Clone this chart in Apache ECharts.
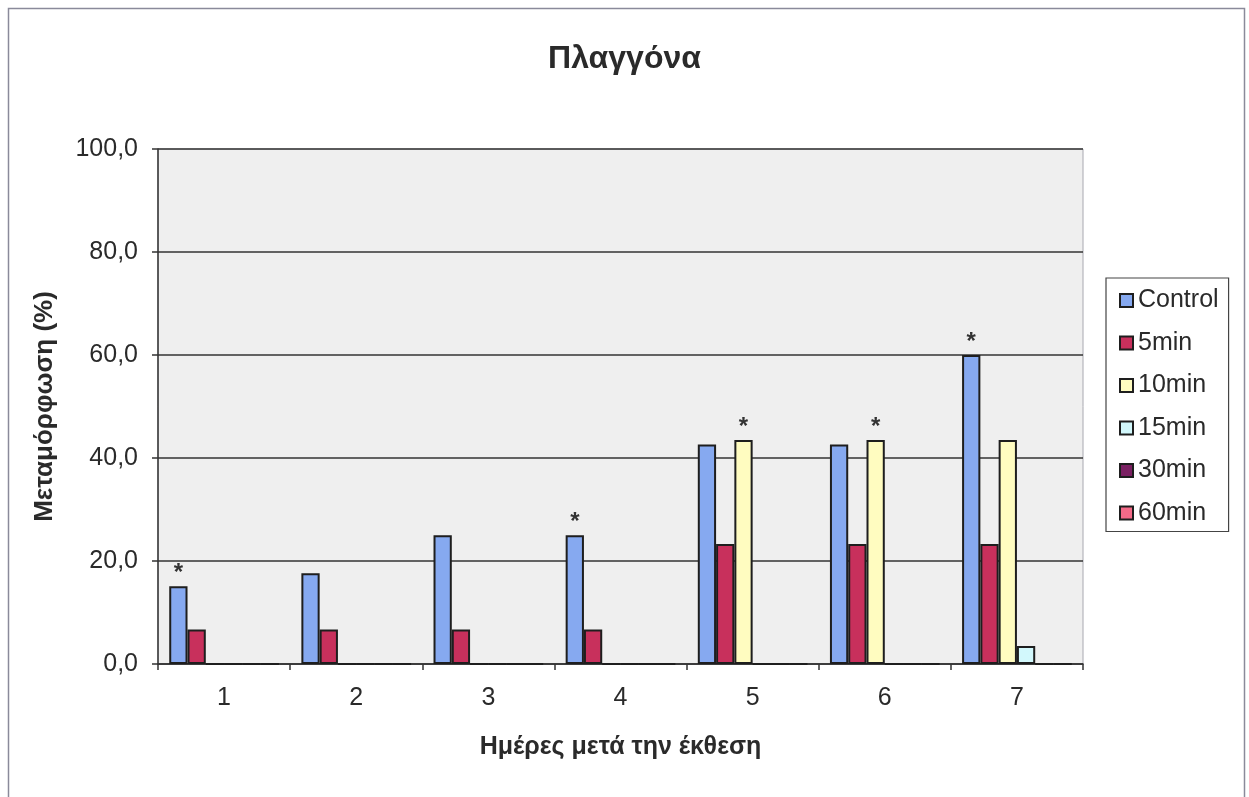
<!DOCTYPE html>
<html>
<head>
<meta charset="utf-8">
<title>Πλαγγόνα</title>
<script src="https://cdn.jsdelivr.net/npm/echarts@6/dist/echarts.min.js"></script>
<style>
  html, body { margin: 0; padding: 0; background: #ffffff; }
  #chart { width: 1249px; height: 797px; }
</style>
</head>
<body>
<div id="chart"></div>
<script>
// Days after exposure
const days = ['1', '2', '3', '4', '5', '6', '7'];

// Transformation (%) per exposure group
const control = [15.1, 17.6, 25.0, 25.0, 42.6, 42.6, 60.0];
const min5    = [6.7, 6.7, 6.7, 6.7, 23.3, 23.3, 23.3];
const min10   = [0, 0, 0, 0, 43.5, 43.5, 43.5];
const min15   = [0, 0, 0, 0, 0, 0, 3.5];
const min30   = [0, 0, 0, 0, 0, 0, 0];
const min60   = [0, 0, 0, 0, 0, 0, 0];

// Significance markers (*) shown above a bar
const controlStars = [true, false, false, true, false, false, true];
const min10Stars   = [false, false, false, false, true, true, false];
const noStars      = [false, false, false, false, false, false, false];

const yTicks = { min: 0, max: 100, interval: 20 };

const groups = [
  { name: 'Control', values: control, stars: controlStars, color: '#86a9f0' },
  { name: '5min',    values: min5,    stars: noStars,      color: '#c8305c' },
  { name: '10min',   values: min10,   stars: min10Stars,   color: '#fffcc0' },
  { name: '15min',   values: min15,   stars: noStars,      color: '#d2f8fc' },
  { name: '30min',   values: min30,   stars: noStars,      color: '#7a2062' },
  { name: '60min',   values: min60,   stars: noStars,      color: '#f46a88' }
];

const font = '"Liberation Sans", Arial, sans-serif';

const series = groups.map(g => ({
  name: g.name,
  type: 'bar',
  barGap: '0%',
  barCategoryGap: '17%',
  itemStyle: { color: g.color, borderColor: '#1e1e1e', borderWidth: 2 },
  label: {
    show: false,
    position: 'top',
    distance: 1,
    formatter: '*',
    fontSize: 24,
    fontWeight: 'bold',
    fontFamily: font,
    color: '#333333'
  },
  emphasis: { disabled: true },
  data: g.values.map((v, i) => ({ value: v, label: { show: g.stars[i] } }))
}));

const chart = echarts.init(document.getElementById('chart'), null, { renderer: 'canvas' });

chart.setOption({
  animation: false,
  backgroundColor: '#ffffff',
  textStyle: { fontFamily: font },
  graphic: [{
    type: 'rect',
    shape: { x: 8.5, y: 8.5, width: 1236, height: 800 },
    style: { fill: 'none', stroke: '#8a8a9a', lineWidth: 1.5 },
    silent: true,
    z: -1
  }],
  title: {
    text: 'Πλαγγόνα',
    left: 'center',
    top: 38,
    textStyle: { fontFamily: font, fontSize: 32, fontWeight: 'bold', color: '#2a2a2a' }
  },
  legend: {
    orient: 'vertical',
    left: 1106,
    top: 278,
    padding: [10, 10, 6, 13],
    itemGap: 17.5,
    itemWidth: 13,
    itemHeight: 13,
    borderColor: '#444444',
    borderWidth: 1.2,
    icon: 'rect',
    textStyle: { fontFamily: font, fontSize: 25, color: '#2a2a2a' },
    data: groups.map(g => g.name)
  },
  grid: {
    left: 158,
    right: 166,
    top: 149,
    bottom: 133,
    show: true,
    backgroundColor: '#efefef',
    borderColor: '#a8a8b0',
    borderWidth: 1
  },
  xAxis: {
    type: 'category',
    data: days,
    name: 'Ημέρες μετά την έκθεση',
    nameLocation: 'middle',
    nameGap: 71,
    nameTextStyle: { fontFamily: font, fontSize: 25, fontWeight: 'bold', color: '#2a2a2a' },
    axisLine: { lineStyle: { color: '#333333', width: 1.5 } },
    axisTick: { show: true, length: 6, lineStyle: { color: '#333333', width: 1.5 } },
    axisLabel: { fontFamily: font, fontSize: 25, color: '#2a2a2a', margin: 22 }
  },
  yAxis: {
    type: 'value',
    min: yTicks.min,
    max: yTicks.max,
    interval: yTicks.interval,
    name: 'Μεταμόρφωση (%)',
    nameLocation: 'middle',
    nameGap: 100,
    nameTextStyle: { fontFamily: font, fontSize: 26, fontWeight: 'bold', color: '#2a2a2a' },
    axisLine: { show: true, lineStyle: { color: '#333333', width: 1.5 } },
    axisTick: { show: true, length: 6, lineStyle: { color: '#333333', width: 1.5 } },
    axisLabel: {
      fontFamily: font, fontSize: 25, color: '#2a2a2a', margin: 20,
      formatter: v => v.toFixed(1).replace('.', ',')
    },
    splitLine: { show: true, lineStyle: { color: '#333333', width: 1.5 } }
  },
  series: series
});
</script>
</body>
</html>
